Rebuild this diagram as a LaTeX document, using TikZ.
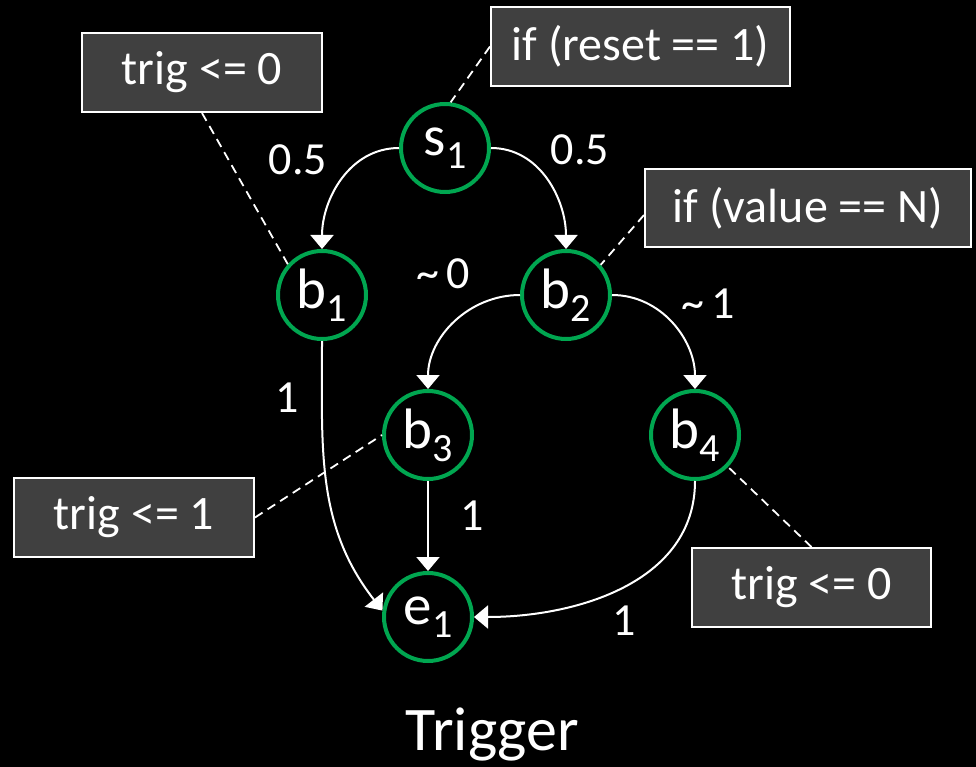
\documentclass[tikz,border=0pt]{standalone}
\usepackage{fontspec}
\setmainfont{Carlito}
\usetikzlibrary{arrows.meta}
\definecolor{stgreen}{RGB}{0,166,80}
\definecolor{boxgray}{RGB}{64,64,64}
\newcommand{\stlab}[2]{#1{\fontsize{40}{40}\selectfont\raisebox{-13pt}{#2}}}
\tikzset{
  state/.style={circle,draw=stgreen,line width=4pt,fill=black,minimum size=88pt,inner sep=0pt,text=white,font=\fontsize{57}{60}\selectfont},
  infobox/.style={rectangle,draw=white,line width=2pt,fill=boxgray,text=white,minimum height=79pt,inner sep=0pt,font=\fontsize{48}{56}\selectfont},
  trans/.style={draw=white,line width=2pt,-{Triangle[width=23pt,length=14pt]}},
  note/.style={draw=white,line width=1.8pt,dash pattern=on 9pt off 6pt},
  elabel/.style={text=white,inner sep=0pt,font=\fontsize{46}{54}\selectfont}
}
\begin{document}
\begin{tikzpicture}[x=1pt,y=1pt]
\fill[black] (0,0) rectangle (976,-767);
\useasboundingbox (0,0) rectangle (976,-767);
% boxes
\node[infobox,minimum width=240pt] (tl) at (202,-72.5) {trig <= 0};
\node[infobox,minimum width=299pt] (reset) at (640.5,-46.5) {if (reset == 1)};
\node[infobox,minimum width=326pt,minimum height=78pt] (value) at (808,-208) {if (value == N)};
\node[infobox,minimum width=240pt] (tone) at (134,-517.5) {trig <= 1};
\node[infobox,minimum width=239pt] (br) at (811.5,-587.5) {trig <= 0};
% states
\node[state] (s1) at (445,-148) {\stlab{s}{1}};
\node[state] (b1) at (322,-295) {\stlab{b}{1}};
\node[state] (b2) at (566,-295) {\stlab{b}{2}};
\node[state] (b3) at (428,-435) {\stlab{b}{3}};
\node[state] (b4) at (695,-435) {\stlab{b}{4}};
\node[state] (e1) at (428,-617) {\stlab{e}{1}};
% dashed notes
\draw[note] (tl.south) -- (b1.138);
\draw[note] (reset.west) -- (s1.83);
\draw[note] ([yshift=-7pt]value.west) -- (b2.41);
\draw[note] (tone.east) -- (b3.west);
\draw[note] (br.north) -- (b4.-44);
% transitions
\draw[trans] (s1.west) to[out=180,in=90] (b1.north);
\draw[trans] (s1.east) to[out=0,in=90] (b2.north);
\draw[trans] (b2.west) to[out=180,in=90] (b3.north);
\draw[trans] (b2.east) to[out=0,in=90] (b4.north);
\draw[trans] (b1.south) to[out=-90,in=128] (e1.172);
\draw[trans] (b3.south) -- (e1.north);
\draw[trans] (b4.south) to[out=-90,in=0] (e1.east);
% labels
\node[elabel] (l1) at (298,-160) {0.5};
\node[elabel] (l2) at (580,-150) {0.5};
\node[elabel] (l3) at (443,-274) {\textasciitilde\,0};
\node[elabel] (l4) at (708,-304) {\textasciitilde\,1};
\node[elabel] (l5) at (287,-398) {1};
\node[elabel] (l6) at (472,-516) {1};
\node[elabel] (l7) at (624,-621) {1};
\node[text=white,anchor=base,font=\fontsize{62}{70}\selectfont] (title) at (492.5,-750) {Trigger};
\end{tikzpicture}
\end{document}
